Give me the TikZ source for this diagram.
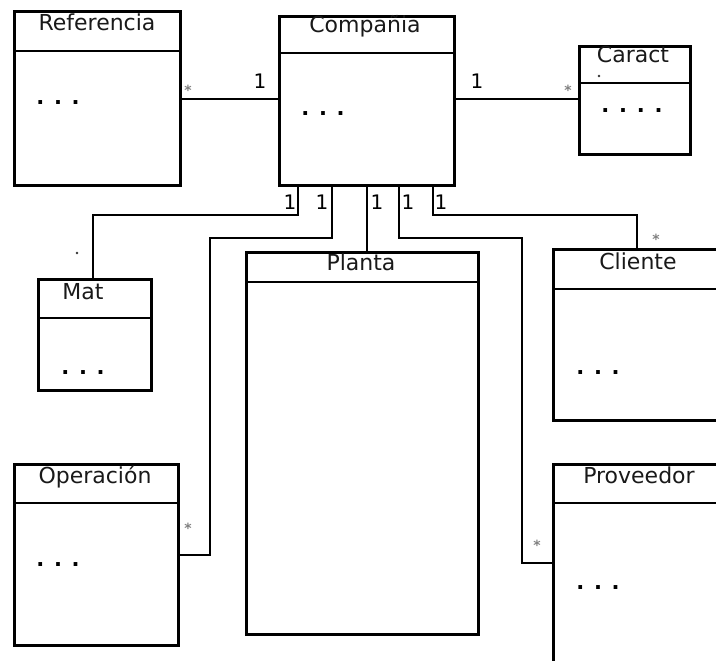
\documentclass[tikz,border=0pt]{standalone}
\usepackage{fontspec}
\setmainfont{DejaVu Sans}
\begin{document}
\begin{tikzpicture}[x=1pt,y=-1pt,
  box/.style={draw, line width=2.6pt, rectangle, anchor=north west, inner sep=0pt},
  conn/.style={line width=2.6pt},
  title/.style={font=\fontsize{22}{24}\selectfont, anchor=base, inner sep=0pt, text=black!90},
  dots/.style={font=\fontsize{21}{24}\selectfont\bfseries, inner sep=0pt, anchor=center},
  mult/.style={font=\fontsize{20}{21}\selectfont, inner sep=0pt, anchor=center},
  star/.style={font=\fontsize{14}{14}\selectfont\bfseries, text=black!50, inner sep=0pt, anchor=center}]
\useasboundingbox (0,0) rectangle (716,661);
\clip (0,0) rectangle (716,661);

% boxes
\node[box, minimum width=166pt, minimum height=174pt] (ref)  at (13,10)  {};
\node[box, minimum width=175pt, minimum height=169pt] (comp) at (278,15) {};
\node[box, minimum width=111pt, minimum height=108pt] (car)  at (578,45) {};
\node[box, minimum width=113pt, minimum height=111pt] (mat)  at (37,278) {};
\node[box, minimum width=232pt, minimum height=382pt] (plan) at (245,251) {};
\node[box, minimum width=180pt, minimum height=171pt] (cli)  at (552,248) {};
\node[box, minimum width=164pt, minimum height=181pt] (ope)  at (13,463) {};
\node[box, minimum width=180pt, minimum height=220pt] (prov) at (552,463) {};

% header lines
\draw[conn] ([yshift=-41pt]ref.north west)  -- ([yshift=-41pt]ref.north east);
\draw[conn] ([yshift=-38pt]comp.north west) -- ([yshift=-38pt]comp.north east);
\draw[conn] ([yshift=-38pt]car.north west)  -- ([yshift=-38pt]car.north east);
\draw[conn] ([yshift=-40pt]mat.north west)  -- ([yshift=-40pt]mat.north east);
\draw[conn] ([yshift=-31pt]plan.north west) -- ([yshift=-31pt]plan.north east);
\draw[conn] ([yshift=-41pt]cli.north west)  -- ([yshift=-41pt]cli.north east);
\draw[conn] ([yshift=-40pt]ope.north west)  -- ([yshift=-40pt]ope.north east);
\draw[conn] ([yshift=-40pt]prov.north west) -- ([yshift=-40pt]prov.north east);

% titles
\node[title] (tref)  at (97,31)  {Referencia};
\node[title] (tcomp) at (365,33) {Compañia};
\node[title] (tcar)  at (633,63) {Caract};
\node[title] (tmat)  at (83,299) {Mat};
\node[title] (tplan) at (361,270) {Planta};
\node[title] (tcli)  at (638,269) {Cliente};
\node[title] (tope)  at (95,483) {Operación};
\node[title] (tprov) at (639,483) {Proveedor};

% contents
\node[dots] (dref)  at (58,103)  {. . .};
\node[dots] (dcomp) at (323,114) {. . .};
\node[dots] (dcar)  at (632,111) {. . . .};
\node[dots] (dmat)  at (83,373)  {. . .};
\node[dots] (dcli)  at (598,373) {. . .};
\node[dots] (dope)  at (58,565)  {. . .};
\node[dots] (dprov) at (598,588) {. . .};

% bend coordinates
\coordinate (bmat) at (93,215);
\coordinate (bope) at (210,238);
\coordinate (bprov) at (522,238);
\coordinate (bcli) at (637,215);

% connectors
\draw[conn] (comp.west |- 0,99) -- (ref.east |- 0,99);
\draw[conn] (comp.east |- 0,99) -- (car.west |- 0,99);
\draw[conn] ([xshift=20pt]comp.south west) |- (bmat) -- (mat.north -| bmat);
\draw[conn] ([xshift=54pt]comp.south west) |- (bope) |- (ope.east |- 0,555);
\draw[conn] ([xshift=89pt]comp.south west) coordinate (pp) -- (pp |- plan.north);
\draw[conn] ([xshift=121pt]comp.south west) |- (bprov) |- ([yshift=-100pt]prov.north west);
\draw[conn] ([xshift=155pt]comp.south west) |- (bcli) -- (bcli |- cli.north);

% multiplicities
\node[mult] (m1) at (260,81) {1};
\node[mult] (m2) at (477,81) {1};
\node[mult] (m3) at (290,202) {1};
\node[mult] (m4) at (322,202) {1};
\node[mult] (m5) at (377,202) {1};
\node[mult] (m6) at (408,202) {1};
\node[mult] (m7) at (441,202) {1};

\node[star] (s1) at (188,90) {*};
\node[star] (s2) at (568,90) {*};
\node[star] (s3) at (656,239) {*};
\node[star] (s4) at (188,528) {*};
\node[star] (s5) at (537,545) {*};
\fill[black!80] (77,253) circle (1.4);
\fill[black!80] (599,76) circle (1.4);
\end{tikzpicture}
\end{document}
